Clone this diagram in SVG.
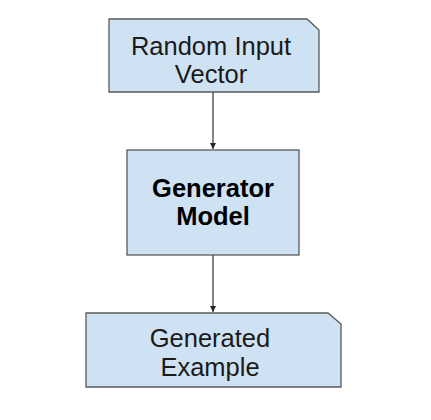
<svg xmlns="http://www.w3.org/2000/svg" width="431" height="420" viewBox="0 0 431 420">
<style>
.box{fill:#cfe2f3;stroke:#595959;stroke-width:1.3}
.t{font-family:"Liberation Sans",Arial,sans-serif;font-size:25.5px;fill:#1a1a1a;text-anchor:middle}
.b{font-weight:bold;fill:#000}
.c{stroke:#333;stroke-width:1.2;fill:none}
</style>
<defs>
<marker id="ah" viewBox="0 0 10 10" refX="10" refY="5" markerUnits="userSpaceOnUse" markerWidth="6" markerHeight="7" orient="auto">
<path d="M0,0 L10,5 L0,10 Z" fill="#222"/>
</marker>
</defs>
<rect width="431" height="420" fill="#fff"/>
<g id="connectors">
<path class="c" d="M213,92 V149" marker-end="url(#ah)"/>
<path class="c" d="M213,255 V312" marker-end="url(#ah)"/>
</g>
<g id="random-input">
<path class="box" d="M109,19 H307 L319,30 V92 H109 Z"/>
<text class="t" x="211" y="55">Random Input</text>
<text class="t" x="211" y="83">Vector</text>
</g>
<g id="generator-model">
<rect class="box" x="127" y="150" width="172" height="105"/>
<text class="t b" x="213" y="197">Generator</text>
<text class="t b" x="213" y="225">Model</text>
</g>
<g id="generated-example">
<path class="box" d="M86,313 H328 L341,324 V387 H86 Z"/>
<text class="t" x="210" y="347">Generated</text>
<text class="t" x="210" y="376">Example</text>
</g>
</svg>
